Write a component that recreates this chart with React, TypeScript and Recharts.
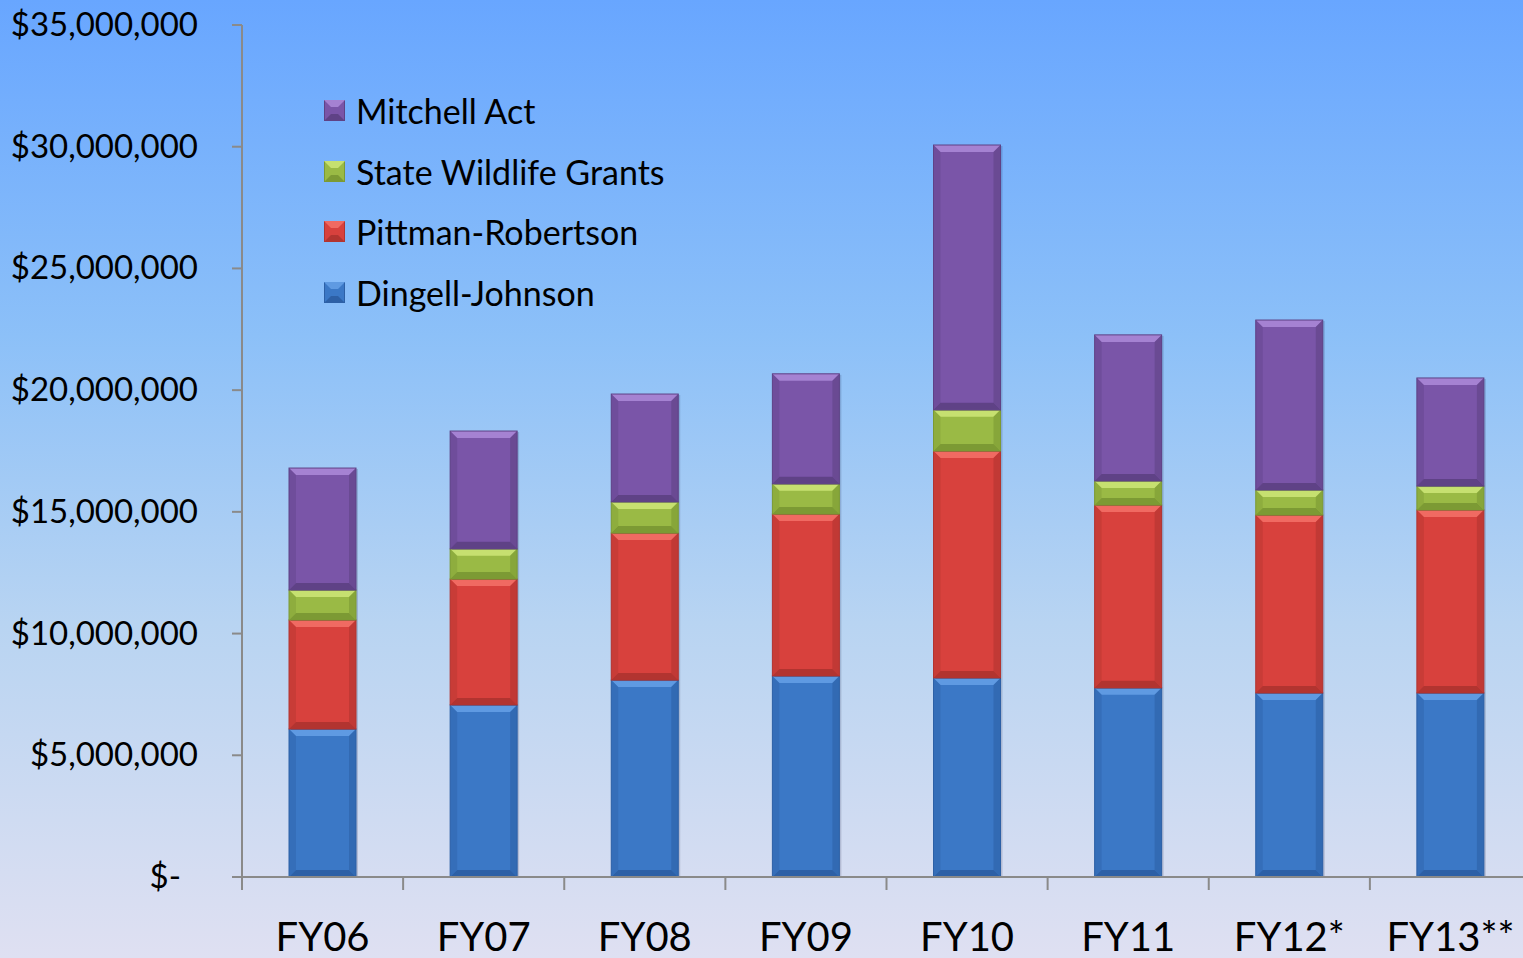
import React from "react";
import { BarChart, Bar, XAxis, YAxis } from "recharts";

const categories = ["FY06", "FY07", "FY08", "FY09", "FY10", "FY11", "FY12*", "FY13**"];
const dingellJohnson = [6080000, 7070000, 8090000, 8260000, 8180000, 7770000, 7560000, 7560000];
const pittmanRobertson = [4480000, 5170000, 6040000, 6650000, 9320000, 7510000, 7310000, 7520000];
const stateWildlife = [1230000, 1240000, 1280000, 1240000, 1690000, 990000, 1030000, 980000];
const mitchellAct = [5010000, 4840000, 4430000, 4520000, 10880000, 6000000, 6980000, 4440000];
const yTicks = [0, 5000000, 10000000, 15000000, 20000000, 25000000, 30000000, 35000000];

const series = [
  { key: "dj", name: "Dingell-Johnson", values: dingellJohnson, base: "#3b78c6", light: "#5f9ae2", dark: "#2d60a6" },
  { key: "pr", name: "Pittman-Robertson", values: pittmanRobertson, base: "#d8413d", light: "#f06a62", dark: "#b23430" },
  { key: "swg", name: "State Wildlife Grants", values: stateWildlife, base: "#9aba45", light: "#c6e070", dark: "#7c9a34" },
  { key: "ma", name: "Mitchell Act", values: mitchellAct, base: "#7a55a8", light: "#a582d2", dark: "#5f4286" },
];

const data = categories.map((c, i) => {
  const row: Record<string, string | number> = { cat: c };
  series.forEach((s) => (row[s.key] = s.values[i]));
  return row;
});

const FONT = "Lato, 'Open Sans', sans-serif";
const BAND = 161.125;

function fmt(v: number) {
  if (v === 0) return "$-";
  return "$" + v.toLocaleString("en-US");
}

// beveled bar segment like the office 3d-ish style
function makeShape(base: string, light: string, dark: string) {
  return (props: any) => {
    const { x, y, width: w, height: h } = props;
    if (!h || h <= 0) return <g />;
    const b = Math.min(7, h / 2);
    return (
      <g>
        <rect x={x + 2} y={y + 1} width={w} height={h} fill="rgba(0,0,40,0.15)" />
        <rect x={x} y={y} width={w} height={h} fill={base} />
        <polygon points={`${x},${y} ${x + w},${y} ${x + w - b},${y + b} ${x + b},${y + b}`} fill={light} />
        <polygon points={`${x},${y + h} ${x + w},${y + h} ${x + w - b},${y + h - b} ${x + b},${y + h - b}`} fill={dark} />
        <polygon points={`${x},${y} ${x + b},${y + b} ${x + b},${y + h - b} ${x},${y + h}`} fill={dark} opacity={0.4} />
        <polygon points={`${x + w},${y} ${x + w - b},${y + b} ${x + w - b},${y + h - b} ${x + w},${y + h}`} fill={dark} opacity={0.6} />
        <rect x={x} y={y} width={w} height={h} fill="none" stroke={dark} strokeWidth={1} />
      </g>
    );
  };
}

function YTick(props: any) {
  const { y, payload } = props;
  const isZero = payload.value === 0;
  return (
    <text x={isZero ? 181 : 198} y={y} dy={11} textAnchor="end" fontFamily={FONT} fontSize={33} fill="#000">
      {fmt(payload.value)}
    </text>
  );
}

function XTick(props: any) {
  const { x, payload } = props;
  const left = x - BAND / 2;
  return (
    <g>
      <line x1={left} y1={877} x2={left} y2={890} stroke="#8a8a8a" strokeWidth={2} />
      <text x={x} y={951} textAnchor="middle" fontFamily={FONT} fontSize={40} fill="#000">
        {payload.value}
      </text>
    </g>
  );
}

function LegendBox() {
  const items = [...series].reverse();
  return (
    <div style={{ position: "absolute", left: 324, top: 81, fontFamily: FONT }}>
      {items.map((s) => (
        <div key={s.key} style={{ display: "flex", alignItems: "center", height: 60.5 }}>
          <svg width={22} height={22} style={{ marginRight: 10 }}>
            <rect x={0.5} y={0.5} width={20} height={20} fill={s.base} stroke={s.dark} />
            <polygon points="0,0 21,0 14,7 7,7" fill={s.light} />
            <polygon points="0,21 21,21 14,14 7,14" fill={s.dark} />
          </svg>
          <span style={{ fontSize: 34, color: "#000", lineHeight: 1, whiteSpace: "nowrap" }}>{s.name}</span>
        </div>
      ))}
    </div>
  );
}

export default function App() {
  return (
    <div
      style={{
        position: "fixed",
        left: 0,
        top: 0,
        width: 1523,
        height: 958,
        overflow: "hidden",
        background: "linear-gradient(to bottom, #68a6ff 0%, #8cc0f8 35%, #b8d4f2 65%, #dfe0f2 100%)",
      }}
    >
      <BarChart
        width={1560}
        height={958}
        data={data}
        barSize={67}
        margin={{ top: 25, right: 29, left: 0, bottom: 0 }}
      >
        <XAxis
          dataKey="cat"
          height={81}
          interval={0}
          tickLine={false}
          axisLine={{ stroke: "#8a8a8a", strokeWidth: 2 }}
          tick={<XTick />}
        />
        <YAxis
          width={242}
          domain={[0, 35000000]}
          ticks={yTicks}
          interval={0}
          tickSize={10}
          tickLine={{ stroke: "#8a8a8a", strokeWidth: 2 }}
          axisLine={{ stroke: "#8a8a8a", strokeWidth: 2 }}
          tick={<YTick />}
        />
        {series.map((s) => (
          <Bar
            key={s.key}
            dataKey={s.key}
            name={s.name}
            stackId="a"
            fill={s.base}
            isAnimationActive={false}
            shape={makeShape(s.base, s.light, s.dark)}
          />
        ))}
      </BarChart>
      <LegendBox />
    </div>
  );
}
